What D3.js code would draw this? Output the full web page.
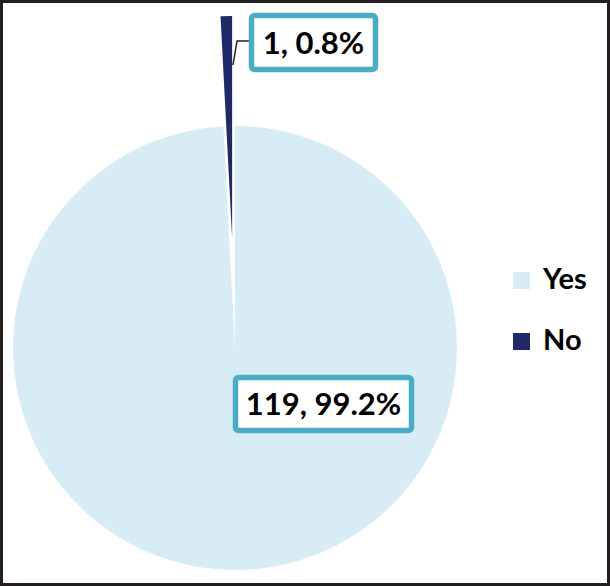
<!DOCTYPE html>
<html><head><meta charset="utf-8">
<script src="https://cdn.jsdelivr.net/npm/d3@7"></script>
<style>body{margin:0;background:#fff}svg{display:block}</style>
</head><body>
<script>
const categories = ["Yes", "No"];
const counts = [119, 1];
const percents = ["99.2%", "0.8%"];
const colors = ["#d7ecf4", "#1f2a66"];

const W = 610, H = 586;
const svg = d3.select("body").append("svg").attr("width", W).attr("height", H);
svg.append("rect").attr("x", 1.5).attr("y", 1.5).attr("width", W - 3).attr("height", H - 3)
  .attr("fill", "#fff").attr("stroke", "#231f20").attr("stroke-width", 3);

const cx = 235, cy = 348, r = 222;
const pie = d3.pie().sort(null).value(d => d)(counts);
const arc = d3.arc().innerRadius(0).outerRadius(r);
const g = svg.append("g").attr("transform", `translate(${cx},${cy})`);
const explode = [0, 110];
const font = "Lato, 'Open Sans', sans-serif";

g.selectAll("path").data(pie).join("path")
  .attr("d", arc)
  .attr("fill", (d, i) => colors[i])
  .attr("transform", (d, i) => {
    const a = (d.startAngle + d.endAngle) / 2;
    return `translate(${Math.sin(a) * explode[i]},${-Math.cos(a) * explode[i]})`;
  });

// labels
function label(x, y, w, h, text) {
  svg.append("rect").attr("x", x).attr("y", y).attr("width", w).attr("height", h)
    .attr("rx", 3).attr("fill", "#fff").attr("stroke", "#4bacc6").attr("stroke-width", 5.5);
  svg.append("text").attr("x", x + w / 2).attr("y", y + h / 2 + 11)
    .attr("text-anchor", "middle").attr("font-family", font).attr("font-weight", "bold")
    .attr("font-size", 31).attr("fill", "#000").text(text);
}
svg.append("path").attr("d", "M233,65 L237,41 L250,41").attr("fill", "none")
  .attr("stroke", "#222").attr("stroke-width", 1.5);
label(251.5, 15.5, 124, 54, `${counts[1]}, ${percents[1]}`);
label(235.5, 377.5, 176, 53, `${counts[0]}, ${percents[0]}`);

// legend
const lg = svg.append("g");
categories.forEach((c, i) => {
  const y = 272 + i * 61;
  lg.append("rect").attr("x", 513).attr("y", y).attr("width", 17).attr("height", 17).attr("fill", colors[i]);
  lg.append("text").attr("x", 543).attr("y", y + 17).attr("font-family", font).attr("font-weight", "bold")
    .attr("font-size", 29).attr("fill", "#000").text(c);
});
</script>
</body></html>
